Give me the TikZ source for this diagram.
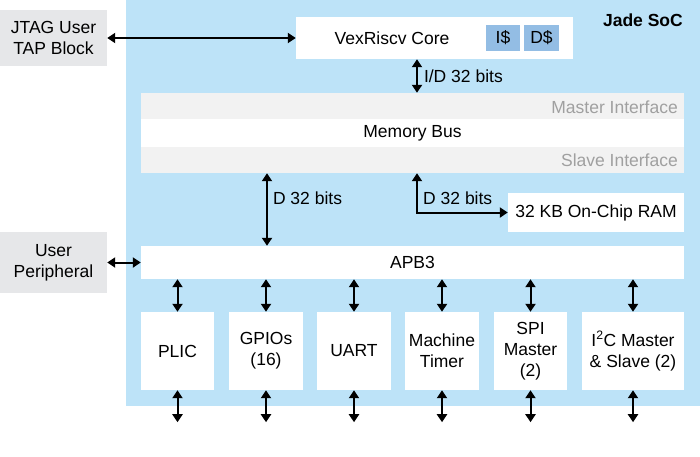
\documentclass[tikz,border=0pt]{standalone}
\usepackage{fontspec}
\setmainfont{Liberation Sans}
\usetikzlibrary{arrows.meta}
\definecolor{socblue}{RGB}{189,227,248}
\definecolor{cacheblue}{RGB}{147,189,228}
\definecolor{sidegray}{RGB}{230,231,233}
\definecolor{bandgray}{RGB}{242,242,242}
\definecolor{txtgray}{RGB}{160,160,160}
\begin{document}
\begin{tikzpicture}[x=1pt, y=-1pt,
    every node/.style={font=\fontsize{17.5}{21}\selectfont, inner sep=0pt},
    blk/.style={fill=white, minimum height=#1},
    side/.style={fill=sidegray, minimum width=107pt, align=center},
    band/.style={fill=bandgray, minimum width=543pt, minimum height=26pt},
    periph/.style={fill=white, minimum height=78pt, align=center},
    cache/.style={fill=cacheblue, minimum height=26pt},
    bus/.style={line width=2pt, {Triangle[length=8pt,width=10pt]}-{Triangle[length=8pt,width=10pt]}},
    lbl/.style={anchor=west}]
  \useasboundingbox (0,0) rectangle (700,456);
  \fill[socblue] (126,0) rectangle (700,406);
  \node[anchor=east, font=\fontsize{17.5}{21}\selectfont\bfseries] (soc) at (683,20) {Jade SoC};
  % outside blocks
  \node[side, minimum height=56pt] (jtag) at (53.5,38) {JTAG User\\TAP Block};
  \node[side, minimum height=61pt] (user) at (53.5,262.5) {User\\Peripheral};
  % core
  \node[blk=42pt, minimum width=277pt] (core) at (434.5,38) {};
  \node (corename) at (392,38) {VexRiscv Core};
  \node[cache, minimum width=34pt] (icache) at (503,38) {I\$};
  \node[cache, minimum width=35pt] (dcache) at (541.5,38) {D\$};
  % memory bus
  \node[band] (master) at (412.5,106) {};
  \node[anchor=east, text=txtgray] (mastername) at (678,107) {Master Interface};
  \node[blk=28pt, minimum width=543pt] (membus) at (412.5,133) {Memory Bus};
  \node[band] (slave) at (412.5,160) {};
  \node[anchor=east, text=txtgray] (slavename) at (678,160) {Slave Interface};
  \node[blk=39pt, minimum width=176pt] (ram) at (596,212.5) {32 KB On-Chip RAM};
  \node[blk=33pt, minimum width=543pt] (apb) at (412.5,262.5) {APB3};
  % peripherals
  \node[periph, minimum width=73pt] (plic) at (177.5,351) {PLIC};
  \node[periph, minimum width=74pt] (gpio) at (266,351) {GPIOs\\(16)};
  \node[periph, minimum width=74pt] (uart) at (354,351) {UART};
  \node[periph, minimum width=74pt] (timer) at (442,351) {Machine\\Timer};
  \node[periph, minimum width=73pt] (spi) at (530.5,351) {SPI\\Master\\(2)};
  \node[periph, minimum width=102pt] (iic) at (633,351) {I\textsuperscript{2}C Master\\\& Slave (2)};
  % connections
  \coordinate (xid) at (417,0);
  \coordinate (xd) at (267,0);
  \draw[bus] (jtag.east) to (core.west);
  \draw[bus] (user.east) to (apb.west);
  \draw[bus] (core.south -| xid) to node[lbl, pos=0.5, xshift=6pt]{I/D 32 bits} (master.north -| xid);
  \draw[bus] (slave.south -| xd) to node[lbl, pos=0.35, xshift=5pt]{D 32 bits} (apb.north -| xd);
  \draw[bus] (slave.south -| xid) |- (ram.west);
  \node[lbl] (dlbl) at (423,198) {D 32 bits};
  \foreach \p in {plic, gpio, uart, timer, spi, iic} {
    \coordinate (\p out) at ([yshift=-32pt]\p.south);
    \draw[bus] (apb.south -| \p.north) to (\p.north);
    \draw[bus] (\p.south) to (\p out);
  }
\end{tikzpicture}
\end{document}
